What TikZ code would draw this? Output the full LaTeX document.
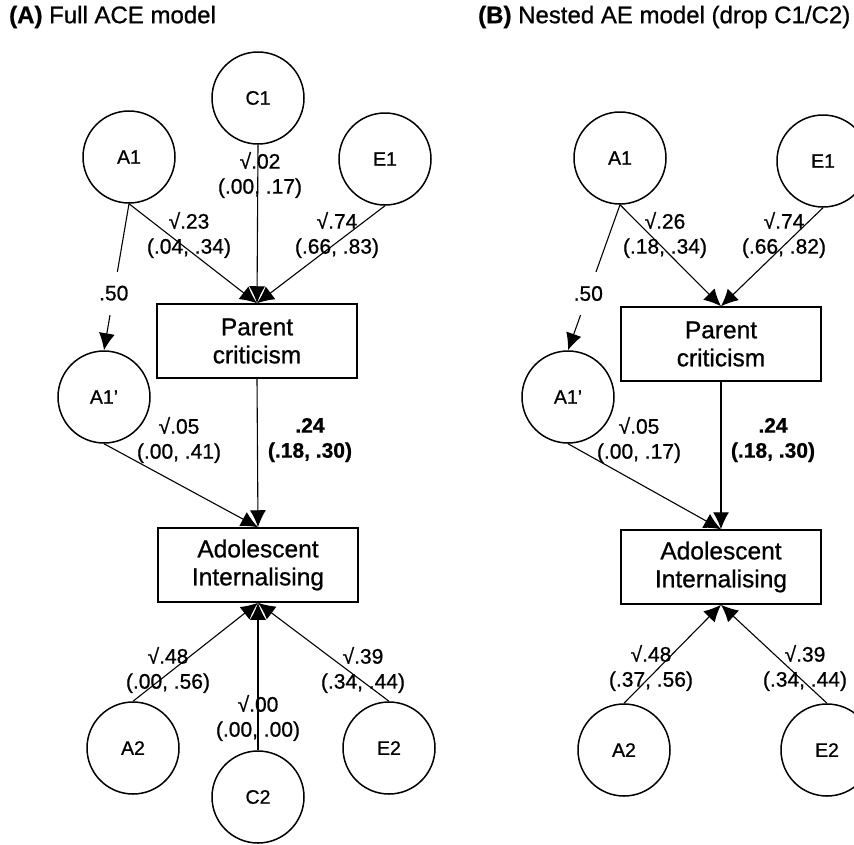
\documentclass[tikz,border=0pt]{standalone}
\usepackage{fontspec}
\setmainfont{Liberation Sans}[RawFeature={embolden=0.8}]
\usetikzlibrary{arrows.meta}
\begin{document}
\begin{tikzpicture}[x=1pt,y=-1pt,
  latent/.style={circle, draw, line width=1.5pt, minimum size=92pt, inner sep=0pt, font=\fontsize{19.5}{22}\selectfont},
  obsbox/.style={rectangle, draw, line width=1.5pt, minimum width=200pt, minimum height=74pt, align=center, font=\fontsize{24.5}{28}\selectfont},
  lbl/.style={align=center, inner sep=0pt, font=\fontsize{21}{25}\selectfont},
  blbl/.style={align=center, inner sep=0pt, font=\fontsize{21}{25}\selectfont\bfseries},
  gaplbl/.style={fill=white, inner xsep=3pt, inner ysep=14pt, font=\fontsize{21}{25}\selectfont},
  conn/.style={line width=1.1pt, -{Latex[length=17pt,width=16pt]}},
  ttl/.style={anchor=west, inner sep=0pt, font=\fontsize{24}{28}\selectfont}
]
\clip (0,0) rectangle (854,844);
\fill[white] (0,0) rectangle (854,844);

% ---------- titles ----------
\node[ttl] (tA) at (9,17) {\textbf{(A)} Full ACE model};
\node[ttl] (tB) at (478,17) {\textbf{(B)} Nested AE model (drop C1/C2)};

% ---------- Panel A ----------
\node[latent] (aC1) at (258,98) {C1};
\node[latent] (aA1) at (129,157) {A1};
\node[latent] (aE1) at (385,159) {E1};
\node[obsbox] (aPC) at (257,341) {Parent\\criticism};
\node[latent] (aA1p) at (104,397) {A1’};
\node[obsbox] (aAI) at (258,565) {Adolescent\\Internalising};
\node[latent] (aA2) at (133,748) {A2};
\node[latent] (aC2) at (258,797) {C2};
\node[latent] (aE2) at (389,748) {E2};

\draw[conn] (aA1.south) -- (aPC.north);
\draw[conn] (aC1.south) -- (aPC.north);
\draw[conn] (aE1.south) -- (aPC.north);
\draw[conn] (aA1.south) -- node[pos=0.61, gaplbl] (a50) {.50} (aA1p.north);
\draw[conn] (aA1p.south) -- (aAI.north);
\draw[conn] (aPC.south) -- (aAI.north);
\draw[conn] (aA2.north) -- (aAI.south);
\draw[conn] (aC2.north) -- (aAI.south);
\draw[conn] (aE2.north) -- (aAI.south);

\node[lbl] (laC1) at (260,175) {√.02\\(.00, .17)};
\node[lbl] (laA1) at (189,235) {√.23\\(.04, .34)};
\node[lbl] (laE1) at (337,235) {√.74\\(.66, .83)};
\node[lbl] (laA1p) at (179,440) {√.05\\(.00, .41)};
\node[blbl] (laPC) at (310,440) {.24\\(.18, .30)};
\node[lbl] (laA2) at (168,670) {√.48\\(.00, .56)};
\node[lbl] (laC2) at (258,718) {√.00\\(.00, .00)};
\node[lbl] (laE2) at (363,670) {√.39\\(.34, .44)};

% ---------- Panel B ----------
\node[latent] (bA1) at (620,158) {A1};
\node[latent] (bE1) at (823,161) {E1};
\node[obsbox] (bPC) at (721,344) {Parent\\criticism};
\node[latent] (bA1p) at (568,397) {A1’};
\node[obsbox] (bAI) at (721,567) {Adolescent\\Internalising};
\node[latent] (bA2) at (624,750) {A2};
\node[latent] (bE2) at (827,750) {E2};

\draw[conn] (bA1.south) -- (bPC.north);
\draw[conn] (bE1.south) -- (bPC.north);
\draw[conn] (bA1.south) -- node[pos=0.61, gaplbl] (b50) {.50} (bA1p.north);
\draw[conn] (bA1p.south) -- (bAI.north);
\draw[conn] (bPC.south) -- (bAI.north);
\draw[conn] (bA2.north) -- (bAI.south);
\draw[conn] (bE2.north) -- (bAI.south);

\node[lbl] (lbA1) at (665,235) {√.26\\(.18, .34)};
\node[lbl] (lbE1) at (784,235) {√.74\\(.66, .82)};
\node[lbl] (lbA1p) at (639,440) {√.05\\(.00, .17)};
\node[blbl] (lbPC) at (773,440) {.24\\(.18, .30)};
\node[lbl] (lbA2) at (651,668) {√.48\\(.37, .56)};
\node[lbl] (lbE2) at (805,668) {√.39\\(.34, .44)};
\end{tikzpicture}
\end{document}
